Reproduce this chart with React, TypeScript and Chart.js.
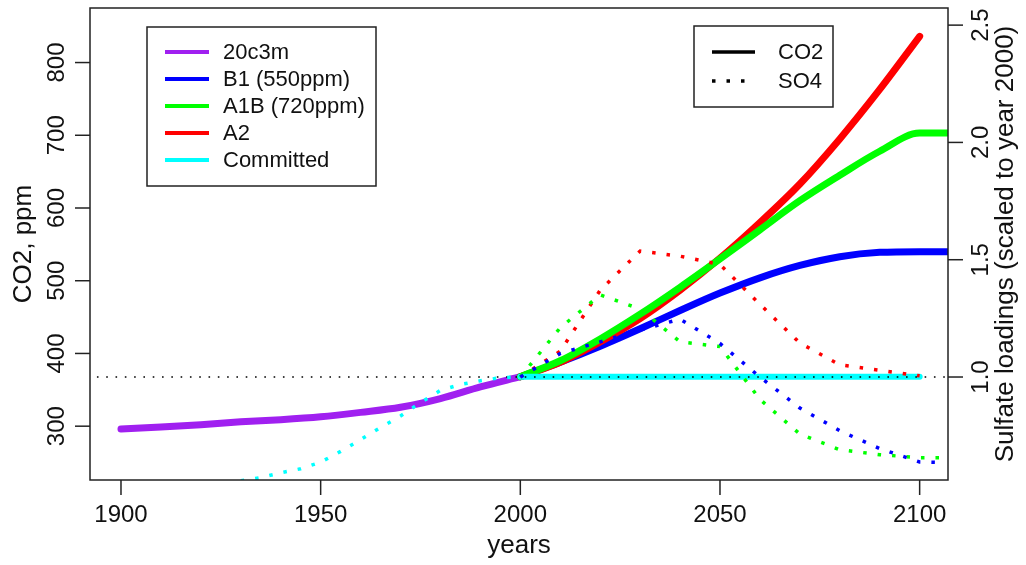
import React, { useEffect, useRef } from "react";
import { Chart, registerables } from "chart.js";
Chart.register(...registerables);

// ---- data ----
const histYears = [1900, 1910, 1920, 1930, 1940, 1950, 1960, 1970, 1980, 1990, 2000];
const co2Hist = [296, 299, 302, 306, 309, 313, 319, 326, 338, 354, 368];

const so4HistYears = [1930, 1935, 1940, 1945, 1950, 1955, 1960, 1965, 1970, 1975, 1980, 1985, 1990, 1995, 2000];
const so4Hist = [0.558, 0.571, 0.592, 0.609, 0.637, 0.683, 0.733, 0.785, 0.834, 0.891, 0.943, 0.968, 0.984, 0.997, 1.0];

const scenYears = [2000, 2010, 2020, 2030, 2040, 2050, 2060, 2070, 2080, 2090, 2100, 2110];
const co2B1 = [368, 388, 410, 434, 459, 483, 504, 521, 533, 539, 540, 540];
const co2A1B = [368, 390, 420, 454, 491, 530, 570, 610, 645, 678, 703, 703];
const a2Years = [2000, 2010, 2020, 2030, 2040, 2050, 2060, 2070, 2080, 2090, 2100];
const co2A2 = [368, 388, 416, 448, 487, 531, 580, 633, 695, 763, 836];
const commitYears = [2000, 2100];
const co2Commit = [368, 368];

const so4Years = [2000, 2010, 2020, 2030, 2040, 2050, 2060, 2070, 2080, 2090, 2100, 2105];
const so4B1 = [1.0, 1.1, 1.15, 1.2, 1.247, 1.143, 1.0, 0.868, 0.771, 0.695, 0.638, 0.636];
const so4A1B = [1.0, 1.21, 1.35, 1.29, 1.15, 1.13, 0.905, 0.757, 0.69, 0.669, 0.656, 0.656];
const so4A2Years = [2000, 2010, 2020, 2030, 2040, 2050, 2060, 2070, 2080, 2090, 2100];
const so4A2 = [1.0, 1.11, 1.37, 1.537, 1.515, 1.48, 1.31, 1.145, 1.052, 1.029, 1.005];

const refYears = [1880, 2120];
const refLevel = [1.0, 1.0];

const xTicks = [1900, 1950, 2000, 2050, 2100];
const yTicks = [300, 400, 500, 600, 700, 800];
const y2Ticks = [1.0, 1.5, 2.0, 2.5];

const legendNames = ["20c3m", "B1 (550ppm)", "A1B (720ppm)", "A2", "Committed"];
const legendColors = ["#a020f0", "#0000ff", "#00ff00", "#ff0000", "#00ffff"];

const FONT = "Liberation Sans, Arial, sans-serif";

function pts(xs: number[], ys: number[]) {
  return xs.map((x, i) => ({ x, y: ys[i] }));
}

const axesPlugin = {
  id: "rAxes",
  afterDraw(chart: any) {
    const ctx = chart.ctx as CanvasRenderingContext2D;
    const a = chart.chartArea;
    const sx = chart.scales.x, sy = chart.scales.y, sy2 = chart.scales.y2;
    ctx.save();
    ctx.strokeStyle = "#222";
    ctx.fillStyle = "#111";
    ctx.lineWidth = 1.5;
    ctx.strokeRect(a.left, a.top, a.right - a.left, a.bottom - a.top);
    const TL = 15;
    ctx.font = `24px ${FONT}`;
    ctx.textBaseline = "alphabetic";
    // x ticks
    ctx.textAlign = "center";
    xTicks.forEach((t) => {
      const x = sx.getPixelForValue(t);
      ctx.beginPath(); ctx.moveTo(x, a.bottom); ctx.lineTo(x, a.bottom + TL); ctx.stroke();
      ctx.fillText(String(t), x, 522);
    });
    // left ticks
    yTicks.forEach((t) => {
      const y = sy.getPixelForValue(t);
      ctx.beginPath(); ctx.moveTo(a.left, y); ctx.lineTo(a.left - TL, y); ctx.stroke();
      ctx.save(); ctx.translate(64, y); ctx.rotate(-Math.PI / 2);
      ctx.textAlign = "center";
      ctx.fillText(String(t), 0, 0); ctx.restore();
    });
    // right ticks
    y2Ticks.forEach((t) => {
      const y = sy2.getPixelForValue(t);
      ctx.beginPath(); ctx.moveTo(a.right, y); ctx.lineTo(a.right + TL, y); ctx.stroke();
      ctx.save(); ctx.translate(988, y); ctx.rotate(-Math.PI / 2);
      ctx.textAlign = "center";
      ctx.fillText(t.toFixed(1), 0, 0); ctx.restore();
    });
    // axis titles
    ctx.font = `26px ${FONT}`;
    ctx.textAlign = "center";
    ctx.fillText("years", (a.left + a.right) / 2, 553);
    ctx.save(); ctx.translate(31, (a.top + a.bottom) / 2); ctx.rotate(-Math.PI / 2);
    ctx.fillText("CO2, ppm", 0, 0); ctx.restore();
    ctx.save(); ctx.translate(1013, (a.top + a.bottom) / 2); ctx.rotate(-Math.PI / 2);
    ctx.fillText("Sulfate loadings (scaled to year 2000)", 0, 0); ctx.restore();

    // legend 1
    ctx.font = `22px ${FONT}`;
    ctx.fillStyle = "#fff";
    ctx.fillRect(147, 27, 229, 159);
    ctx.strokeStyle = "#222"; ctx.lineWidth = 1.5;
    ctx.strokeRect(147, 27, 229, 159);
    ctx.textAlign = "left"; ctx.textBaseline = "middle";
    legendNames.forEach((n, i) => {
      const y = 52 + i * 27;
      ctx.strokeStyle = legendColors[i]; ctx.lineWidth = 4; ctx.lineCap = "butt";
      ctx.beginPath(); ctx.moveTo(165, y); ctx.lineTo(209, y); ctx.stroke();
      ctx.fillStyle = "#111";
      ctx.fillText(n, 223, y + 1);
    });
    // legend 2
    ctx.fillStyle = "#fff";
    ctx.fillRect(694, 26, 139, 81);
    ctx.strokeStyle = "#222"; ctx.lineWidth = 1.5;
    ctx.strokeRect(694, 26, 139, 81);
    ctx.strokeStyle = "#000"; ctx.lineWidth = 3.5;
    ctx.beginPath(); ctx.moveTo(712, 52); ctx.lineTo(755, 52); ctx.stroke();
    ctx.setLineDash([3.5, 11]);
    ctx.beginPath(); ctx.moveTo(712, 81); ctx.lineTo(755, 81); ctx.stroke();
    ctx.setLineDash([]);
    ctx.fillStyle = "#111";
    ctx.fillText("CO2", 778, 53);
    ctx.fillText("SO4", 778, 82);
    ctx.restore();
  },
};

export default function App() {
  const ref = useRef<HTMLCanvasElement>(null);
  useEffect(() => {
    document.body.style.margin = "0";
    const solid = (label: string, xs: number[], ys: number[], color: string, order: number, w = 7) => ({
      label, data: pts(xs, ys), borderColor: color, backgroundColor: color, borderWidth: w,
      borderCapStyle: "round", borderJoinStyle: "round", cubicInterpolationMode: "monotone",
      yAxisID: "y", order, clip: 0, pointRadius: 0,
    });
    const dotted = (label: string, xs: number[], ys: number[], color: string, order: number) => ({
      label, data: pts(xs, ys), borderColor: color, backgroundColor: color, borderWidth: 3.5,
      borderDash: [3.5, 11], borderCapStyle: "butt", yAxisID: "y2", order, clip: 0, pointRadius: 0,
    });
    const chart = new Chart(ref.current!, {
      type: "line",
      data: {
        datasets: [
          dotted("SO4 20c3m", so4HistYears, so4Hist, "#00ffff", 1),
          dotted("SO4 B1", so4Years, so4B1, "#0000ff", 1),
          dotted("SO4 A1B", so4Years, so4A1B, "#00ff00", 1),
          dotted("SO4 A2", so4A2Years, so4A2, "#ff0000", 1),
          {
            label: "ref", data: pts(refYears, refLevel), borderColor: "#000", borderWidth: 1.6,
            borderDash: [1.6, 7.7], yAxisID: "y2", order: 2, clip: 0, pointRadius: 0,
          },
          solid("Committed", commitYears, co2Commit, "#00ffff", 3, 6),
          solid("A1B", scenYears, co2A1B, "#00ff00", 4),
          solid("A2", a2Years, co2A2, "#ff0000", 5),
          solid("B1", scenYears, co2B1, "#0000ff", 6),
          solid("20c3m", histYears, co2Hist, "#a020f0", 7),
        ] as any,
      },
      options: {
        responsive: false,
        animation: false,
        layout: { padding: { left: 90, top: 8, right: 78, bottom: 85 } },
        plugins: { legend: { display: false }, tooltip: { enabled: false } },
        elements: { point: { radius: 0 }, line: { tension: 0 } },
        scales: {
          x: { type: "linear", min: 1892.24, max: 2107.1, display: false },
          y: { type: "linear", min: 226, max: 875, display: false },
          y2: { type: "linear", min: 0.561, max: 2.573, display: false },
        },
      },
      plugins: [axesPlugin],
    });
    return () => chart.destroy();
  }, []);
  return <canvas ref={ref} width={1026} height={565} style={{ display: "block", background: "#fff" }} />;
}
